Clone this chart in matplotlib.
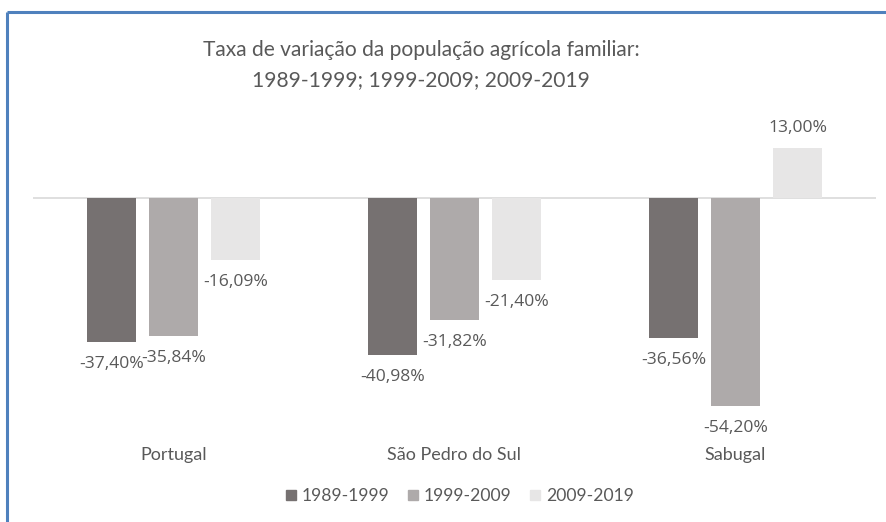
import matplotlib
matplotlib.use("Agg")
import matplotlib.pyplot as plt
from matplotlib.patches import Rectangle
import numpy as np

categories = ["Portugal", "São Pedro do Sul", "Sabugal"]
series_names = ["1989-1999", "1999-2009", "2009-2019"]
v_1989_1999 = [-37.40, -40.98, -36.56]
v_1999_2009 = [-35.84, -31.82, -54.20]
v_2009_2019 = [-16.09, -21.40, 13.00]
series_values = [v_1989_1999, v_1999_2009, v_2009_2019]
colors = ["#767171", "#AEAAAA", "#E7E6E6"]
title_lines = ["Taxa de variação da população agrícola familiar:",
               "1989-1999; 1999-2009; 2009-2019"]

txt = "#595959"
W, H = 887, 522
fig = plt.figure(figsize=(W / 100, H / 100), dpi=100)
fig.patch.set_facecolor("white")

# chart border (blue, cropped on right/bottom)
fig.add_artist(plt.Line2D([7 / W, 7 / W], [0, 1 - 12 / H], transform=fig.transFigure,
                          color="#4F81BD", lw=2.2, solid_capstyle="butt"))
fig.add_artist(plt.Line2D([7 / W, 1], [1 - 12 / H, 1 - 12 / H], transform=fig.transFigure,
                          color="#4F81BD", lw=2.2, solid_capstyle="butt"))

ax_left, ax_right, ax_top, ax_bot = 33, 876, 110, 430
ax = fig.add_axes([ax_left / W, 1 - ax_bot / H, (ax_right - ax_left) / W, (ax_bot - ax_top) / H])
ax.set_xlim(-0.5, 2.5)
ppu = 3.84
ax.set_ylim(-(ax_bot - 198) / ppu, (198 - ax_top) / ppu)

x = np.arange(len(categories))
width = 0.174
step = 0.221
label_font = dict(family=["Open Sans", "DejaVu Sans"], size=12.6, color=txt)
for i, (name, vals, c) in enumerate(zip(series_names, series_values, colors)):
    xs = x + (i - 1) * step
    bars = ax.bar(xs, vals, width=width, color=c, label=name, zorder=2)
    for xx, v in zip(xs, vals):
        s = f"{v:.2f}%".replace(".", ",")
        off = -22 if v < 0 else 20
        ax.annotate(s, (xx, v), xytext=(0, off), textcoords="offset pixels",
                    ha="center", va="center", zorder=3, **label_font)

ax.axhline(0, color="#D9D9D9", lw=1.2, zorder=1)
for sp in ax.spines.values():
    sp.set_visible(False)
ax.set_yticks([])
ax.set_xticks(x)
ax.set_xticklabels(categories, family=["Lato", "DejaVu Sans"], fontsize=13, color=txt)
ax.tick_params(axis="x", length=0, pad=12)

fig.text(421 / W, 1 - 50 / H, title_lines[0], ha="center", va="center",
         family=["Lato", "DejaVu Sans"], fontsize=15.1, color=txt)
fig.text(421 / W, 1 - 80 / H, title_lines[1], ha="center", va="center",
         family=["Lato", "DejaVu Sans"], fontsize=15.1, color=txt)

handles = [Rectangle((0, 0), 1, 1, color=c) for c in colors]
leg = fig.legend(handles, series_names, loc="center", bbox_to_anchor=(460 / W, 1 - 496 / H),
                 ncol=3, frameon=False, handlelength=0.55, handleheight=0.55,
                 handletextpad=0.35, columnspacing=1.05,
                 prop={"family": ["Lato", "DejaVu Sans"], "size": 12.6})
for t in leg.get_texts():
    t.set_color(txt)

fig.savefig("out.png", dpi=100, facecolor="white")
